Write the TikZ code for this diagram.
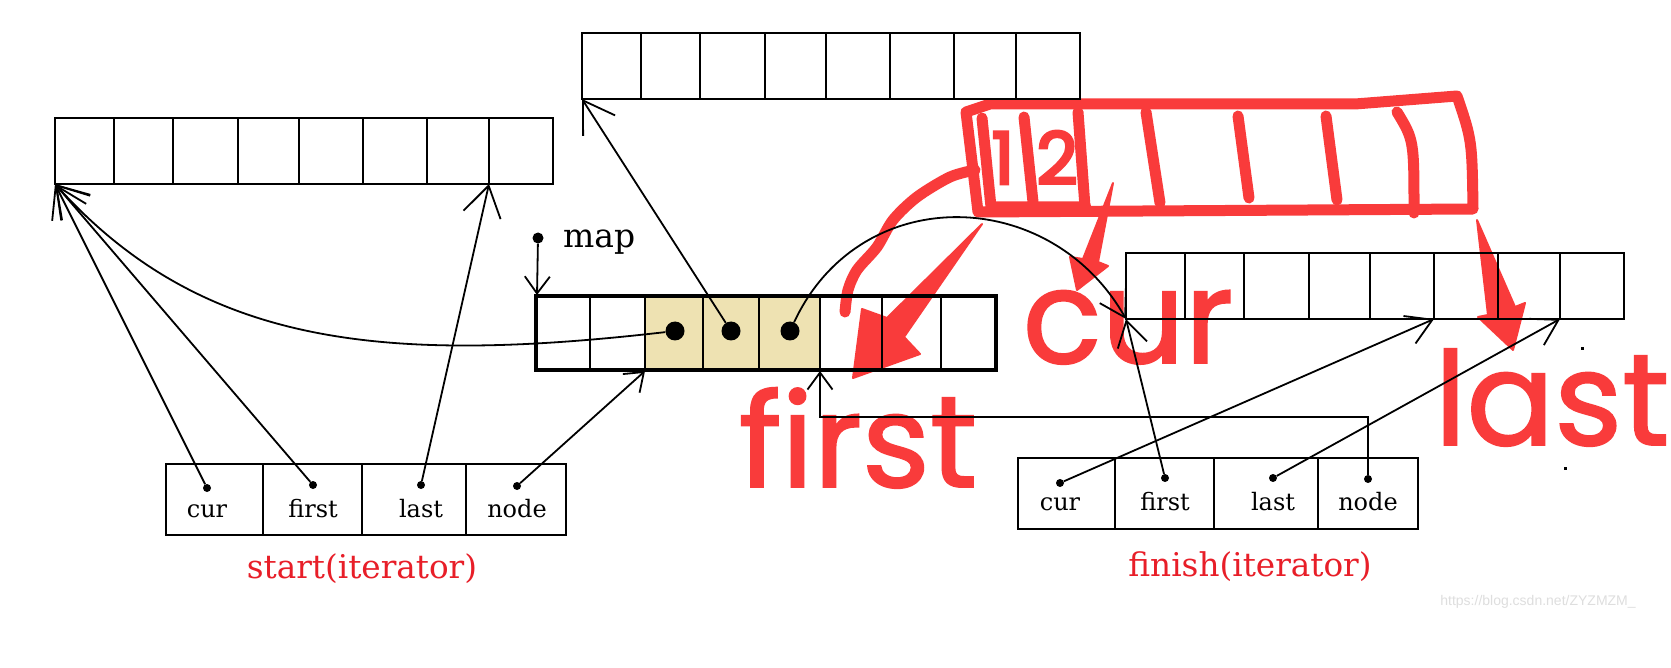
\documentclass[tikz,border=0pt]{standalone}
\usepackage{fontspec}
\setmainfont{DejaVu Serif}
\newfontfamily\hand{Poppins}[FakeBold=1.5]
\newfontfamily\handbold{Poppins}[FakeBold=4]
\newfontfamily\wm{Liberation Sans}
\usetikzlibrary{arrows.meta}
\definecolor{hred}{RGB}{249,59,59}
\definecolor{lred}{RGB}{232,30,40}
\definecolor{cellyel}{RGB}{238,226,178}
\tikzset{
  buf/.style={line width=2pt},
  boxline/.style={line width=2.5pt},
  mapline/.style={line width=2.5pt},
  mapborder/.style={line width=4.5pt},
  conn/.style={line width=1.8pt},
  bigtip/.style={-{Straight Barb[length=30pt,width=38pt]}},
  midtip/.style={-{Straight Barb[length=25pt,width=30pt]}},
  smalltip/.style={-{Straight Barb[length=17pt,width=25pt]}},
  bdot/.style={circle, fill=black, inner sep=0pt, minimum size=8pt},
  mdot/.style={circle, fill=black, inner sep=0pt, minimum size=19pt},
  lbl/.style={anchor=base, inner sep=0pt, font=\fontsize{24}{28}\selectfont},
  redlbl/.style={anchor=base, inner sep=0pt, text=lred, font=\fontsize{32.7}{36}\selectfont},
  hstroke/.style={draw=hred, line width=11pt, line cap=round, line join=round},
  harrow/.style={fill=hred, draw=hred, line width=2pt, line join=round},
  handtxt/.style={anchor=base, inner sep=0pt, text=hred, font=\hand\fontsize{130}{130}\selectfont},
  handdig/.style={anchor=base, inner sep=0pt, text=hred, font=\handbold\fontsize{72}{72}\selectfont},
}
\newcommand\drawbuffer[2]{%
  \draw[buf] (#1,#2) rectangle ++(498,66);
  \foreach \d in {59,118,183,244,308,372,434} \draw[buf] (#1+\d,#2) -- ++(0,66);
}
\begin{document}
\begin{tikzpicture}[x=1pt,y=-1pt]
\useasboundingbox (0,0) rectangle (1671,668);
\fill[white] (0,0) rectangle (1671,668);

% yellow cells of the map
\fill[cellyel] (645,296) rectangle (820,370);

% ---------- red hand annotations ----------
\draw[hstroke] (978,212) .. controls (973,170) .. (966,112) -- (990,104) -- (1355,104) -- (1457,96) .. controls (1472,140) .. (1473,209) -- cycle;
\draw[hstroke] (982,118) -- (991,207) -- (1086,207);
\draw[hstroke] (1024,117) -- (1033,202);
\draw[hstroke] (1078,112) -- (1085,207);
\draw[hstroke] (1146,112) -- (1160,203);
\draw[hstroke] (1238,116) -- (1249,198);
\draw[hstroke] (1326,116) -- (1337,200);
\draw[hstroke] (1397,112) .. controls (1414,140) .. (1414,213);
\draw[hstroke] plot[smooth] coordinates {(975,170) (950,177) (917,197) (893,220) (877,247) (857,270) (848,290) (845,312)};
\node[handdig] (h1) at (1003,184) {1};
\node[handdig] (h2) at (1057,184) {2};
\filldraw[harrow] (982,224) -- (887,318) -- (862,309) -- (853,378) -- (920,354) -- (904,337) -- cycle;
\filldraw[harrow] (1113,183) -- (1083,259) -- (1070,257) -- (1077,290) -- (1108,266) -- (1098,262) -- cycle;
\filldraw[harrow] (1477,220) -- (1488,315) -- (1478,317) -- (1513,350) -- (1525,303) -- (1515,307) -- cycle;
\node[handtxt] (hfirst) at (858,487) {first};
\node[handtxt] (hcur) at (1128,363) {cur};
\node[handtxt] (hlast) at (1552,445) {last};

% ---------- buffers ----------
\drawbuffer{55}{118}
\drawbuffer{582}{33}
\drawbuffer{1126}{253}
\coordinate (LB) at (55,184);
\coordinate (LB7) at (489,184);
\coordinate (TB) at (582,99);
\coordinate (RB) at (1126,319);
\coordinate (RB6) at (1434,319);
\coordinate (RB8) at (1560,319);

% ---------- map ----------
\draw[mapborder] (536,296) rectangle (996,370);
\foreach \x in {590,645,703,759,820,882,941} \draw[mapline] (\x,296) -- (\x,370);
\coordinate (MTL) at (537,295);
\coordinate (M3) at (645,371);
\coordinate (M6) at (820,371);
\coordinate (bend) at (820,417);
\node[mdot] (m1) at (675,331) {};
\node[mdot] (m2) at (731,331) {};
\node[mdot] (m3) at (790,331) {};
\node[circle, fill=black, inner sep=0pt, minimum size=11pt] (mapdot) at (538,238) {};
\node[anchor=base west, inner sep=0pt, font=\fontsize{33}{36}\selectfont] (maplbl) at (563,248) {map};

% ---------- start iterator ----------
\draw[boxline] (166,464) rectangle (566,535);
\foreach \x in {263,362,466} \draw[boxline] (\x,464) -- (\x,535);
\node[lbl] (tcur) at (207,517) {cur};
\node[lbl] (tfirst) at (313,517) {first};
\node[lbl] (tlast) at (421,517) {last};
\node[lbl] (tnode) at (517,517) {node};
\node[bdot] (scur) at (207,488) {};
\node[bdot] (sfirst) at (313,485) {};
\node[bdot] (slast) at (421,485) {};
\node[bdot] (snode) at (517,486) {};
\node[redlbl] (startlbl) at (362,578) {start(iterator)};

% ---------- finish iterator ----------
\draw[boxline] (1018,458) rectangle (1418,529);
\foreach \x in {1115,1214,1318} \draw[boxline] (\x,458) -- (\x,529);
\node[lbl] (ucur) at (1060,510) {cur};
\node[lbl] (ufirst) at (1165,510) {first};
\node[lbl] (ulast) at (1273,510) {last};
\node[lbl] (unode) at (1368,510) {node};
\node[bdot] (fcur) at (1060,483) {};
\node[bdot] (ffirst) at (1165,478) {};
\node[bdot] (flast) at (1273,478) {};
\node[bdot] (fnode) at (1368,479) {};
\node[redlbl] (finishlbl) at (1250,576) {finish(iterator)};

% ---------- connectors ----------
\draw[conn, bigtip] (scur) -- (LB);
\draw[conn, bigtip] (sfirst) -- (LB);
\draw[conn, bigtip] (m1) .. controls (380,365) and (200,345) .. (LB);
\draw[conn, bigtip] (slast) -- (LB7);
\draw[conn, smalltip] (snode) -- (M3);
\draw[conn, bigtip] (m2) -- (TB);
\draw[conn, midtip] (m3) .. controls (860,181) and (1050,185) .. (RB);
\draw[conn, midtip] (ffirst) -- (RB);
\draw[conn, midtip] (fcur) -- (RB6);
\draw[conn, midtip] (flast) -- (RB8);
\draw[conn, smalltip] (fnode) |- (bend) -- (M6);
\draw[conn, smalltip] (mapdot) -- (MTL);

% specks and watermark
\fill[black] (1581,347) rectangle (1584,350);
\fill[black] (1564,467) rectangle (1567,470);
\node[font=\wm\fontsize{14}{16}\selectfont, text=black!13, inner sep=0pt] (wmark) at (1538,602) {https://blog.csdn.net/ZYZMZM\_};
\end{tikzpicture}
\end{document}
